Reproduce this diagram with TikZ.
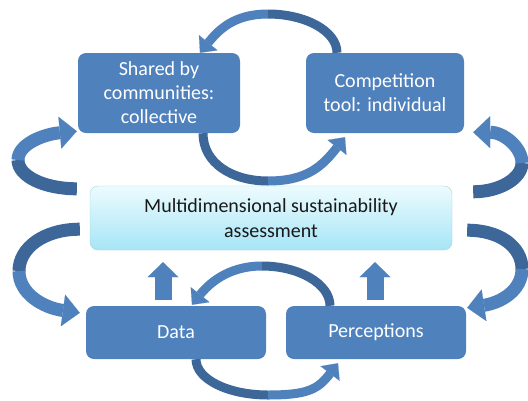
\documentclass[tikz,border=0pt]{standalone}
\usepackage{fontspec}
\setmainfont{Carlito}
\usetikzlibrary{arrows.meta}
\definecolor{boxblue}{HTML}{4F81BD}
\definecolor{bandblue}{HTML}{4F81BD}
\definecolor{banddark}{HTML}{3E6799}
\definecolor{paleblue}{HTML}{EDFBFE}
\definecolor{skyblue}{HTML}{A6E5F6}
\definecolor{skyedge}{HTML}{A3D6E6}

\begin{document}
\begin{tikzpicture}[x=1pt,y=-1pt,
  box/.style={rounded corners=8pt,fill=boxblue,text=white,align=center,
    font=\fontsize{20}{24}\selectfont,inner sep=0pt},
  loopback/.style={draw=banddark,line width=13pt},
  loopfront/.style={draw=bandblue,line width=13pt,
    -{Triangle[width=32pt,length=17pt,line width=0.1pt]}},
  swapback/.style={draw=banddark,line width=9pt},
  swapfront/.style={draw=bandblue,line width=9pt,
    -{Triangle[width=24pt,length=13pt,line width=0.1pt]}},
  uparrow/.style={draw=bandblue,line width=17pt,
    -{Triangle[width=31pt,length=15pt,line width=0.1pt]}}]
\useasboundingbox (0,0) rectangle (528,400);
\clip (0,0) rectangle (528,400);
\fill[white] (0,0) rectangle (528,400);

% the five boxes
\node[box,minimum width=162pt,minimum height=80pt] (shared) at (159,93)
  {Shared by\\communities:\\collective};
\node[box,minimum width=158pt,minimum height=80pt] (compete) at (385,93)
  {Competition\\tool: individual};
\node[rounded corners=8pt,top color=paleblue,bottom color=skyblue,draw=skyedge,
  align=center,text=black!90,font=\fontsize{20}{25}\selectfont,
  minimum width=362pt,minimum height=64pt] (assess) at (271,218)
  {Multidimensional sustainability\\assessment};
\node[box,minimum width=180pt,minimum height=53pt] (data) at (176,332.5) {Data};
\node[box,minimum width=180pt,minimum height=53pt] (percep) at (376,332.5) {Perceptions};

% swap arrows between the two top boxes
\draw[swapback] ([shift={(-48,0)}]compete.north) .. controls +(0,-22) and +(37,0) .. (268,14);
\draw[swapfront] (268,14) .. controls +(-35,0) and +(18,-22) .. ([shift={(41,0)}]shared.north);
\draw[swapback] ([shift={(44,0)}]shared.south) .. controls +(0,30) and +(-36,0) .. (268,181);
\draw[swapfront] (268,181) .. controls +(40,0) and +(-22,28) .. ([shift={(-40,4)}]compete.south);

% swap arrows between the two bottom boxes
\draw[swapback] ([shift={(-46,0)}]percep.north) .. controls +(0,-22) and +(37,0) .. (262,266);
\draw[swapfront] (262,266) .. controls +(-35,0) and +(16,-20) .. ([shift={(16,-1)}]data.north);
\draw[swapback] ([shift={(20,0)}]data.south) .. controls +(0,20) and +(-40,0) .. (268,395);
\draw[swapfront] (268,395) .. controls +(40,0) and +(-20,26) .. ([shift={(-38,4)}]percep.south);

% loops round the assessment box
\draw[loopback] ([shift={(-13,3)}]assess.north west) .. controls +(-33,0) and +(0,16) .. (18,160);
\draw[loopfront] (18,160) .. controls +(0,-16) and +(-33,3) .. ([shift={(-1,-2)}]shared.south west);
\draw[loopback] ([shift={(21,6)}]assess.north east) .. controls +(27,0) and +(0,15) .. (522,163);
\draw[loopfront] (522,163) .. controls +(0,-16) and +(30,0) .. ([shift={(9,-1)}]compete.south east);
\draw[loopback] ([shift={(-10,-21)}]assess.south west) .. controls +(-36,0) and +(0,-23) .. (19,271);
\draw[loopfront] (19,271) .. controls +(0,23) and +(-36,-5) .. ([shift={(-6,7)}]data.north west);
\draw[loopback] ([shift={(15,-20)}]assess.south east) .. controls +(33,0) and +(0,-22) .. (522,269);
\draw[loopfront] (522,269) .. controls +(0,22) and +(33,-5) .. ([shift={(1,2)}]percep.north east);

% straight arrows up into the assessment
\draw[uparrow] ([shift={(-13,-6)}]data.north) -- ([shift={(-108,12)}]assess.south);
\draw[uparrow] ([shift={(-1,-6)}]percep.north) -- ([shift={(104,12)}]assess.south);
\end{tikzpicture}
\end{document}
